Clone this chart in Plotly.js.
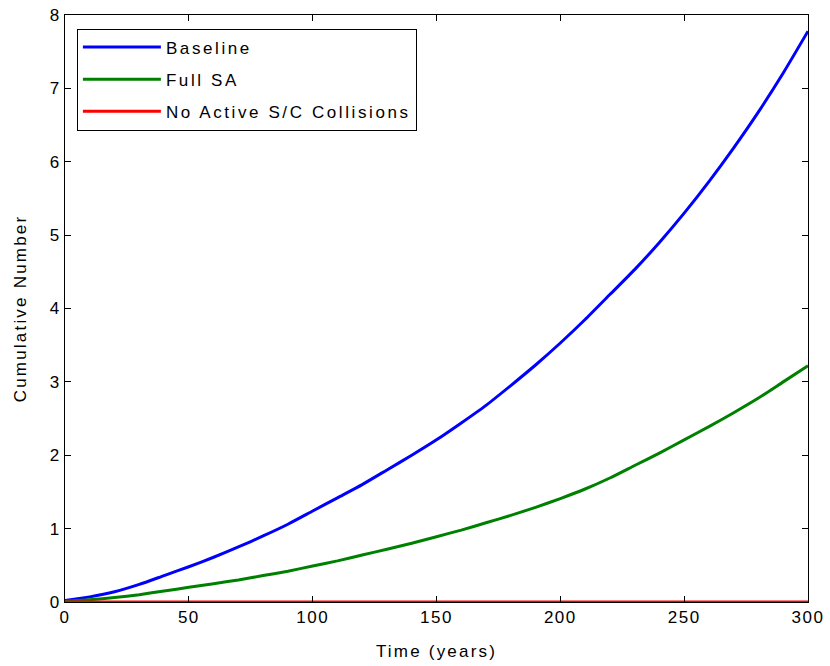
<!DOCTYPE html>
<html>
<head>
<meta charset="utf-8">
<script src="https://cdn.plot.ly/plotly-3.0.1.min.js"></script>
<style>
html,body{margin:0;padding:0;background:#fff;}
#chart{width:830px;height:666px;}
text.legendtext{letter-spacing:2.6px;}
text.xtitle,text.ytitle{letter-spacing:2.2px;}
.xtick text,.ytick text{letter-spacing:1.5px;}
</style>
</head>
<body>
<div id="chart"></div>
<script>
const years = [0,10,20,30,40,50,60,70,80,90,100,110,120,130,140,150,160,170,180,190,200,210,220,230,240,250,260,270,280,290,300];
const baseline = [0.02,0.07,0.14,0.24,0.36,0.48,0.61,0.75,0.90,1.06,1.24,1.42,1.60,1.80,2.00,2.21,2.44,2.68,2.95,3.23,3.53,3.85,4.19,4.53,4.90,5.30,5.73,6.19,6.68,7.21,7.78];
const fullSA = [0.01,0.03,0.06,0.10,0.15,0.20,0.25,0.30,0.36,0.42,0.49,0.56,0.64,0.72,0.80,0.89,0.98,1.08,1.18,1.29,1.41,1.54,1.69,1.86,2.03,2.21,2.39,2.58,2.78,3.00,3.22];
const noActive = [0,0,0,0,0,0,0,0,0,0,0,0,0,0,0,0,0,0,0,0,0,0,0,0,0,0,0,0,0,0,0];
const seriesNames = ['Baseline','Full SA','No Active S/C Collisions'];
const xTicks = [0,50,100,150,200,250,300];
const yTicks = [0,1,2,3,4,5,6,7,8];

const colors = ['#0000ff','#008000','#ff0000'];
const vals = [baseline, fullSA, noActive];
const traces = vals.map((v,i)=>({
  x: years, y: v, type:'scatter', mode:'lines', name: seriesNames[i],
  legendgroup: 'g'+i,
  line:{color:colors[i], width:3, shape:'spline', smoothing:0.6}
}));

const font = {family:'"Liberation Sans", Arial, Helvetica, sans-serif', size:17, color:'#000'};
const layout = {
  width:830, height:666,
  margin:{l:65, r:22, t:15, b:64},
  paper_bgcolor:'#fff', plot_bgcolor:'#fff',
  font: font,
  showlegend:true,
  legend:{x:0.016, y:0.977, xanchor:'left', yanchor:'top', bordercolor:'#000', borderwidth:1, bgcolor:'#fff', font:font,
          traceorder:'grouped', tracegroupgap:7, itemwidth:78},
  xaxis:{range:[0,300], tickvals:xTicks, ticks:'inside', ticklen:6, tickcolor:'#000', showline:true, linecolor:'#000', linewidth:1, mirror:'ticks', showgrid:false, zeroline:false, title:{text:'Time (years)', font:font, standoff:18}},
  yaxis:{range:[0,8], tickvals:yTicks, ticks:'inside', ticklen:6, tickcolor:'#000', showline:true, linecolor:'#000', linewidth:1, mirror:'ticks', showgrid:false, zeroline:false, title:{text:'Cumulative Number', font:font, standoff:18}}
};
Plotly.newPlot('chart', traces, layout, {displayModeBar:false, staticPlot:true});
</script>
</body>
</html>
